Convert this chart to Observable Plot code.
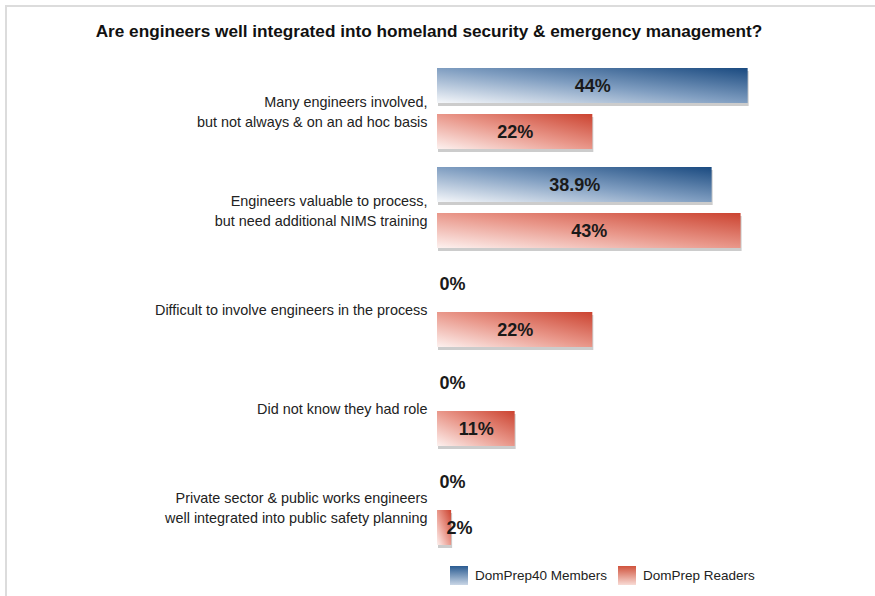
<!DOCTYPE html>
<html><head><meta charset="utf-8">
<script src="https://cdn.jsdelivr.net/npm/d3@7"></script>
<script src="https://cdn.jsdelivr.net/npm/@observablehq/plot@0.6"></script>
<style>
body{margin:0;background:#fff;font-family:"Liberation Sans",Arial,sans-serif;}
#wrap{position:relative;width:875px;height:596px;overflow:hidden;background:#fff;}
#frame{position:absolute;left:5px;top:5px;width:900px;height:620px;border-left:2px solid #dcdcdc;border-top:2px solid #dcdcdc;}
#chart{position:absolute;left:0;top:0;}
#title{position:absolute;left:0;width:858px;top:21px;text-align:center;font-weight:bold;font-size:17.2px;line-height:20px;color:#111;}
.lg{position:absolute;display:flex;align-items:center;font-size:13.5px;color:#222;top:566px;height:19px;}
.sw{width:18px;height:19px;margin-right:7px;}
</style></head>
<body><div id="wrap"><div id="frame"></div><div id="chart"></div><div id="title"></div></div>
<script>
const titleText = "Are engineers well integrated into homeland security & emergency management?";
const categories = ["c1", "c2", "c3", "c4", "c5"];
const categoryLabels = [
  "Many engineers involved,\nbut not always & on an ad hoc basis",
  "Engineers valuable to process,\nbut need additional NIMS training",
  "Difficult to involve engineers in the process",
  "Did not know they had role",
  "Private sector & public works engineers\nwell integrated into public safety planning"
];
const seriesNames = ["DomPrep40 Members", "DomPrep Readers"];
const membersValues = [44, 38.9, 0, 0, 0];
const readersValues = [22, 43, 22, 11, 2];
const membersLabels = ["44%", "38.9%", "0%", "0%", "0%"];
const readersLabels = ["22%", "43%", "22%", "11%", "2%"];

const rows = [];
categories.forEach((c, i) => {
  rows.push({category: c, catLabel: categoryLabels[i], series: seriesNames[0], value: membersValues[i], label: membersLabels[i]});
  rows.push({category: c, catLabel: categoryLabels[i], series: seriesNames[1], value: readersValues[i], label: readersLabels[i]});
});

document.getElementById("title").textContent = titleText;

const barOpts = {x: "value", y: "series"};
const plot = Plot.plot({
  width: 875, height: 596,
  marginLeft: 437, marginRight: 85, marginTop: 52, marginBottom: 32,
  style: {background: "transparent", fontFamily: "Liberation Sans, Arial, sans-serif"},
  x: {domain: [0, 50], axis: null},
  y: {domain: seriesNames, axis: null, paddingInner: 0.174, paddingOuter: 0},
  fy: {domain: categories, axis: null, paddingInner: 0.1545, paddingOuter: 0.1545},
  facet: {data: rows, y: "category"},
  marks: [
    Plot.barX(rows, {...barOpts, filter: d => d.value > 0, fill: "#cccccc", insetTop: 3, dx: 1}),
    Plot.barX(rows, {...barOpts, filter: d => d.value > 0 && d.series === seriesNames[0], fill: "url(#gradBlue)", insetBottom: 3}),
    Plot.barX(rows, {...barOpts, filter: d => d.value > 0 && d.series === seriesNames[1], fill: "url(#gradRed)", insetBottom: 3}),
    Plot.text(rows, {filter: d => d.value >= 5, x: d => d.value / 2, y: "series", text: "label", dy: -1,
      fontSize: 18, fontWeight: "bold", fill: "#1a1a1a", textAnchor: "middle"}),
    Plot.text(rows, {filter: d => d.value < 5, x: d => d.value / 2, y: "series", text: "label", dx: 2, dy: -1,
      fontSize: 18, fontWeight: "bold", fill: "#1a1a1a", textAnchor: "start"}),
    Plot.text(rows, {filter: d => d.series === seriesNames[1], x: () => 0, text: "catLabel", dx: -10,
      fontSize: 14.4, fill: "#222", textAnchor: "end", lineHeight: 1.4})
  ]
});

const ns = "http://www.w3.org/2000/svg";
const defs = document.createElementNS(ns, "defs");
function grad(id, stops, x1, y1, x2, y2) {
  const g = document.createElementNS(ns, "linearGradient");
  g.setAttribute("id", id);
  g.setAttribute("x1", x1); g.setAttribute("y1", y1);
  g.setAttribute("x2", x2); g.setAttribute("y2", y2);
  stops.forEach(([o, c]) => {
    const s = document.createElementNS(ns, "stop");
    s.setAttribute("offset", o); s.setAttribute("stop-color", c);
    g.appendChild(s);
  });
  defs.appendChild(g);
}
grad("gradBlue", [[0, "#f5f7fa"], [0.5, "#809ec1"], [1, "#1a4a80"]], 0, 1, 1, 0);
grad("gradRed", [[0, "#fdf1ef"], [0.5, "#e9978a"], [1, "#cb4330"]], 0, 1, 1, 0);
plot.insertBefore(defs, plot.firstChild);
document.getElementById("chart").appendChild(plot);

// legend
const wrap = document.getElementById("wrap");
const legendPos = [450, 618];
const legendGrad = [
  "linear-gradient(to bottom, #2a5b91, #c9d6e6)",
  "linear-gradient(to bottom, #d0533d, #f8dbd5)"
];
seriesNames.forEach((s, i) => {
  const item = document.createElement("div");
  item.className = "lg";
  item.style.left = legendPos[i] + "px";
  const sw = document.createElement("div");
  sw.className = "sw";
  sw.style.background = legendGrad[i];
  const t = document.createElement("span");
  t.textContent = s;
  item.appendChild(sw); item.appendChild(t);
  wrap.appendChild(item);
});
</script>
</body></html>
